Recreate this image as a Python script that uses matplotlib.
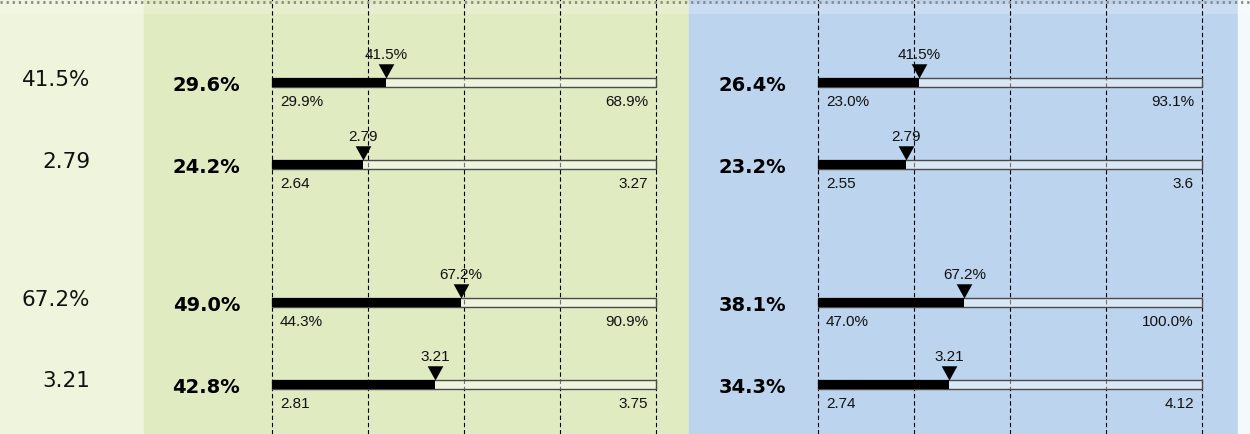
import matplotlib.pyplot as plt
from matplotlib.patches import Rectangle
from matplotlib.lines import Line2D
import numpy as np

# actual values shown in the first column and on the markers
actual = [41.5, 2.79, 67.2, 3.21]
actual_labels = ['41.5%', '2.79', '67.2%', '3.21']

# green panel
green_lo = [29.9, 2.64, 44.3, 2.81]
green_hi = [68.9, 3.27, 90.9, 3.75]
green_lo_labels = ['29.9%', '2.64', '44.3%', '2.81']
green_hi_labels = ['68.9%', '3.27', '90.9%', '3.75']
green_scores = ['29.6%', '24.2%', '49.0%', '42.8%']

# blue panel
blue_lo = [23.0, 2.55, 47.0, 2.74]
blue_hi = [93.1, 3.6, 100.0, 4.12]
blue_lo_labels = ['23.0%', '2.55', '47.0%', '2.74']
blue_hi_labels = ['93.1%', '3.6', '100.0%', '4.12']
blue_scores = ['26.4%', '23.2%', '38.1%', '34.3%']

# layout (pixels)
W, H = 1250, 435
row_y = [83.5, 165.5, 303, 385]
bar_h = 9
bar_w = 384
small = dict(fontsize=11, family='Liberation Sans', color='#111111')

fig = plt.figure(figsize=(W / 100, H / 100), dpi=100)

# column backgrounds
for x0, x1, c in [(0, 144, '#eef5dc'), (144, 689, '#e1ebc2'),
                  (689, 1238, '#bdd4ee'), (1238, 1250, '#f6f9fc')]:
    fig.patches.append(Rectangle((x0 / W, 0), (x1 - x0) / W, 1,
                                 transform=fig.transFigure, color=c, zorder=-1))

# faint header band and dotted line on top
fig.patches.append(Rectangle((0, 1 - 15 / H), 1, 10 / H, transform=fig.transFigure,
                             color='white', alpha=0.2, lw=0, zorder=-0.9))
fig.add_artist(Line2D([0, 1], [1 - 2.5 / H] * 2, transform=fig.transFigure,
                      color='#8a8a8a', lw=2.0, dashes=(0.8, 1.4)))

# first column
for yc, lbl in zip(row_y, actual_labels):
    fig.text(90 / W, (H - yc + 3.5) / H, lbl, ha='right', va='center',
             fontsize=15.5, family='DejaVu Sans', color='#111111')

tri = [(-0.55, 1), (0.55, 1), (0, 0)]

panels = [
    (272, green_lo, green_hi, green_lo_labels, green_hi_labels, green_scores),
    (818, blue_lo, blue_hi, blue_lo_labels, blue_hi_labels, blue_scores),
]

for x, lo, hi, lo_lbl, hi_lbl, scores in panels:
    # quartile grid lines
    gax = fig.add_axes([x / W, 0, bar_w / W, 1])
    gax.set_xlim(0, 1)
    gax.axis('off')
    for t in np.linspace(0, 1, 5):
        gax.axvline(t, color='black', lw=0.8, ls=(0, (4, 2.5)), clip_on=False)

    for i, yc in enumerate(row_y):
        ax = fig.add_axes([x / W, (H - yc - bar_h / 2) / H, bar_w / W, bar_h / H])
        ax.set_xlim(lo[i], hi[i])
        ax.set_ylim(0, 1)
        ax.axis('off')
        ax.barh(0.5, hi[i] - lo[i], left=lo[i], height=1,
                color=(1, 1, 1, 0.45), edgecolor='#4a4a4a', lw=1, clip_on=False)
        ax.barh(0.5, actual[i] - lo[i], left=lo[i], height=1,
                color='black', clip_on=False)
        ax.plot(actual[i], 1, marker=tri, ms=20.5, mew=0, color='black',
                ls='none', clip_on=False)
        ax.annotate(actual_labels[i], (actual[i], 1), xytext=(0, 17),
                    textcoords='offset points', ha='center', va='center', **small)
        ax.annotate(lo_lbl[i], (lo[i], 0), xytext=(5.8, -10.4),
                    textcoords='offset points', ha='left', va='center', **small)
        ax.annotate(hi_lbl[i], (hi[i], 0), xytext=(-5.8, -10.4),
                    textcoords='offset points', ha='right', va='center', **small)
        ax.annotate(scores[i], (lo[i], 0.5), xytext=(-23, -1.8),
                    textcoords='offset points', ha='right', va='center',
                    fontsize=14, weight='bold', family='DejaVu Sans', color='black')

fig.savefig('out.png', dpi=100)
